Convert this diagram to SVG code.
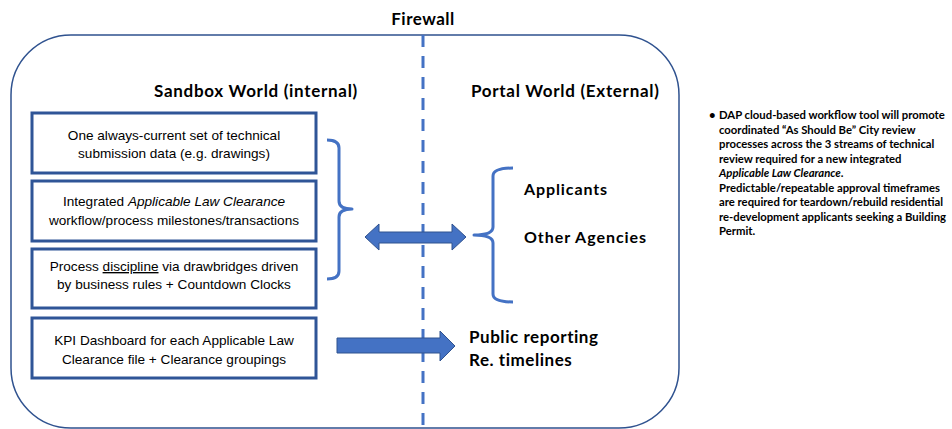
<svg xmlns="http://www.w3.org/2000/svg" width="952" height="429" viewBox="0 0 952 429">
<style>
.frame{fill:none;stroke:#2F528F;stroke-width:1.5}
.fw{fill:none;stroke:#4472C4;stroke-width:3;stroke-dasharray:12 9}
.box{fill:#fff;stroke:#2F5597;stroke-width:3}
.bt{font-family:"Liberation Sans",Arial,sans-serif;font-size:13.6px;fill:#000;text-anchor:middle}
.hd{font-family:Lato,"Open Sans",sans-serif;font-weight:bold;fill:#000}
.br{fill:none;stroke:#4472C4;stroke-width:3;stroke-linejoin:round}
.ar{fill:#4472C4;stroke:#2F528F;stroke-width:1}
.note{font-family:Lato,"Open Sans",sans-serif;font-weight:bold;font-size:11.3px;fill:#000}
</style>
<rect class="frame" x="11" y="35" width="668" height="393" rx="60" ry="60"/>
<text class="hd" x="423" y="25" font-size="17" letter-spacing="0.5" text-anchor="middle">Firewall</text>
<text class="hd" x="154" y="97" font-size="17" letter-spacing="0.7">Sandbox World (internal)</text>
<text class="hd" x="471" y="97" font-size="17" letter-spacing="0.7">Portal World (External)</text>

<g id="box1">
<rect class="box" x="32" y="113" width="284" height="60"/>
<text class="bt" x="174" y="140">One always-current set of technical</text>
<text class="bt" x="174" y="158">submission data (e.g. drawings)</text>
</g>
<g id="box2">
<rect class="box" x="32" y="181" width="284" height="60"/>
<text class="bt" x="174" y="206">Integrated <tspan font-style="italic">Applicable Law Clearance</tspan></text>
<text class="bt" x="174" y="225">workflow/process milestones/transactions</text>
</g>
<g id="box3">
<rect class="box" x="32" y="249" width="284" height="59"/>
<text class="bt" x="174" y="271">Process <tspan text-decoration="underline">discipline</tspan> via drawbridges driven</text>
<text class="bt" x="174" y="289">by business rules + Countdown Clocks</text>
</g>
<g id="box4">
<rect class="box" x="32" y="318" width="284" height="60"/>
<text class="bt" x="174" y="345">KPI Dashboard for each Applicable Law</text>
<text class="bt" x="174" y="364">Clearance file + Clearance groupings</text>
</g>

<g id="external">
<text class="hd" x="524" y="195" font-size="16" letter-spacing="0.9">Applicants</text>
<text class="hd" x="524" y="243" font-size="16" letter-spacing="0.95">Other Agencies</text>
</g>
<g id="public">
<text class="hd" x="469" y="343" font-size="17" letter-spacing="0.55">Public reporting</text>
<text class="hd" x="469" y="366" font-size="17" letter-spacing="0.55">Re. timelines</text>
</g>

<g id="connectors">
<line class="fw" x1="423" y1="35" x2="423" y2="429"/>
<path class="br" d="M327,140 Q339,140 339,148 L339,201 Q339,209 352,209 Q339,209 339,217 L339,271 Q339,279 327,279"/>
<path class="br" d="M513,168 Q493,168 493,176 L493,227 Q493,235 474,235 Q493,235 493,243 L493,294 Q493,302 513,302"/>
<path class="ar" d="M365,237 L379,224 L379,232 L452,232 L452,224 L466,237 L452,250 L452,243 L379,243 L379,250 Z"/>
<path class="ar" d="M337,338 L440,338 L440,331 L455,346 L440,361 L440,353 L337,353 Z"/>
</g>

<g id="note">
<text class="note" x="709" y="119">•</text>
<text class="note" x="719" y="119">DAP cloud-based workflow tool will promote</text>
<text class="note" x="719" y="133.5">coordinated “As Should Be” City review</text>
<text class="note" x="719" y="148">processes across the 3 streams of technical</text>
<text class="note" x="719" y="162.5">review required for a new integrated</text>
<text class="note" x="719" y="177"><tspan font-style="italic">Applicable Law Clearance</tspan>.</text>
<text class="note" x="719" y="191.5">Predictable/repeatable approval timeframes</text>
<text class="note" x="719" y="206">are required for teardown/rebuild residential</text>
<text class="note" x="719" y="220.5">re-development applicants seeking a Building</text>
<text class="note" x="719" y="235">Permit.</text>
</g>
</svg>
